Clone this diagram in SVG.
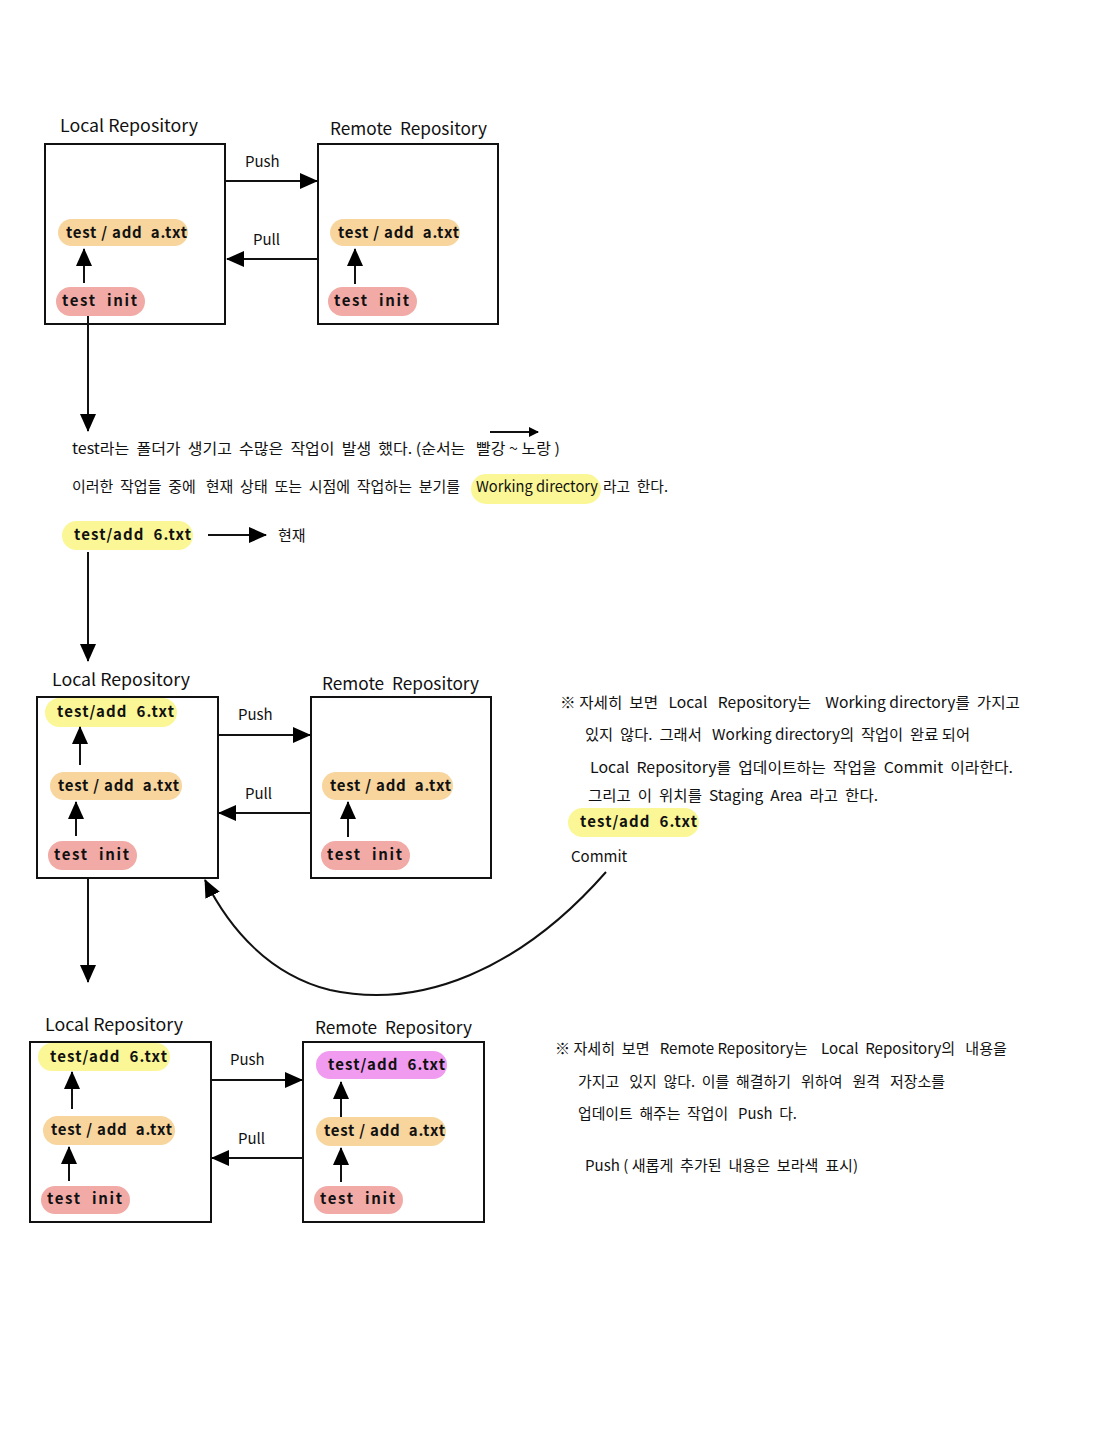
<svg xmlns="http://www.w3.org/2000/svg" width="1097" height="1440" viewBox="0 0 1097 1440">
<defs>
<marker id="ah" markerWidth="10" markerHeight="10" refX="9" refY="5" orient="auto" markerUnits="userSpaceOnUse" viewBox="0 0 10 10"><path d="M0,0 L10,5 L0,10 z" fill="#000"/></marker>
<marker id="ahb" markerWidth="18" markerHeight="16" refX="17" refY="8" orient="auto" markerUnits="userSpaceOnUse" viewBox="0 0 18 16"><path d="M0,0 L18,8 L0,16 z" fill="#000"/></marker>
<style>
text{font-family:"Noto Sans CJK KR","Noto Sans",sans-serif;fill:#111;white-space:pre;}
.lbl{font-size:17px;}
.chip{font-size:15px;font-weight:bold;}
.box{fill:#fff;stroke:#111;stroke-width:2;}
.ln{stroke:#111;stroke-width:2;fill:none;}
.or{fill:#f8d59c;}
.pk{fill:#f2aaa6;}
.ye{fill:#fbf796;}
.mg{fill:#f09af0;}
.p{font-size:15px;}
</style>
</defs>
<rect width="1097" height="1440" fill="#fff"/>

<!-- Section 1 -->
<g id="local1">
<text class="lbl" x="60" y="132" textLength="138" lengthAdjust="spacingAndGlyphs">Local Repository</text>
<rect class="box" x="45" y="144" width="180" height="180"/>
<rect class="or" x="58" y="219" width="130" height="27" rx="13.5"/>
<text class="chip" x="66" y="238" textLength="121" lengthAdjust="spacing">test / add  a.txt</text>
<rect class="pk" x="56" y="287" width="89" height="29" rx="14.5"/>
<text class="chip" x="62" y="306" textLength="75" lengthAdjust="spacing">test  init</text>
</g>
<g id="remote1">
<text class="lbl" x="330" y="135" textLength="157" lengthAdjust="spacingAndGlyphs">Remote  Repository</text>
<rect class="box" x="318" y="144" width="180" height="180"/>
<rect class="or" x="330" y="219" width="130" height="27" rx="13.5"/>
<text class="chip" x="338" y="238" textLength="121" lengthAdjust="spacing">test / add  a.txt</text>
<rect class="pk" x="328" y="287" width="89" height="29" rx="14.5"/>
<text class="chip" x="334" y="306" textLength="75" lengthAdjust="spacing">test  init</text>
</g>

<!-- Section 2 -->
<g id="local2">
<text class="lbl" x="52" y="686" textLength="138" lengthAdjust="spacingAndGlyphs">Local Repository</text>
<rect class="box" x="37" y="697" width="181" height="181"/>
<rect class="ye" x="45" y="698" width="132" height="29" rx="14.5"/>
<text class="chip" x="57" y="717" textLength="117" lengthAdjust="spacing">test/add  6.txt</text>
<rect class="or" x="50" y="772" width="132" height="28" rx="14"/>
<text class="chip" x="58" y="791" textLength="121" lengthAdjust="spacing">test / add  a.txt</text>
<rect class="pk" x="48" y="841" width="89" height="29" rx="14.5"/>
<text class="chip" x="54" y="860" textLength="75" lengthAdjust="spacing">test  init</text>
</g>
<g id="remote2">
<text class="lbl" x="322" y="690" textLength="157" lengthAdjust="spacingAndGlyphs">Remote  Repository</text>
<rect class="box" x="311" y="697" width="180" height="181"/>
<rect class="or" x="322" y="772" width="131" height="28" rx="14"/>
<text class="chip" x="330" y="791" textLength="121" lengthAdjust="spacing">test / add  a.txt</text>
<rect class="pk" x="321" y="841" width="89" height="29" rx="14.5"/>
<text class="chip" x="327" y="860" textLength="75" lengthAdjust="spacing">test  init</text>
</g>

<!-- Section 3 -->
<g id="local3">
<text class="lbl" x="45" y="1031" textLength="138" lengthAdjust="spacingAndGlyphs">Local Repository</text>
<rect class="box" x="30" y="1042" width="181" height="180"/>
<rect class="ye" x="38" y="1043" width="132" height="28" rx="14"/>
<text class="chip" x="50" y="1062" textLength="117" lengthAdjust="spacing">test/add  6.txt</text>
<rect class="or" x="43" y="1116" width="132" height="29" rx="14.5"/>
<text class="chip" x="51" y="1135" textLength="121" lengthAdjust="spacing">test / add  a.txt</text>
<rect class="pk" x="41" y="1186" width="89" height="28" rx="14"/>
<text class="chip" x="47" y="1204" textLength="75" lengthAdjust="spacing">test  init</text>
</g>
<g id="remote3">
<text class="lbl" x="315" y="1034" textLength="157" lengthAdjust="spacingAndGlyphs">Remote  Repository</text>
<rect class="box" x="303" y="1042" width="181" height="180"/>
<rect class="mg" x="316" y="1051" width="131" height="28" rx="14"/>
<text class="chip" x="328" y="1070" textLength="117" lengthAdjust="spacing">test/add  6.txt</text>
<rect class="or" x="316" y="1117" width="130" height="29" rx="14.5"/>
<text class="chip" x="324" y="1136" textLength="121" lengthAdjust="spacing">test / add  a.txt</text>
<rect class="pk" x="314" y="1186" width="89" height="28" rx="14"/>
<text class="chip" x="320" y="1204" textLength="75" lengthAdjust="spacing">test  init</text>
</g>

<!-- Text block 1 -->
<g id="note1">
<text class="p" x="72" y="454" textLength="488" lengthAdjust="spacingAndGlyphs">test라는  폴더가  생기고  수많은  작업이  발생  했다. (순서는   빨강 ~ 노랑 )</text>
<rect class="ye" x="471" y="474" width="130" height="30" rx="15"/>
<text class="p" x="72" y="492" textLength="388" lengthAdjust="spacingAndGlyphs">이러한  작업들  중에   현재  상태  또는  시점에  작업하는  분기를</text>
<text class="p" x="476" y="492" textLength="122" lengthAdjust="spacingAndGlyphs">Working directory</text>
<text class="p" x="603" y="492" textLength="65" lengthAdjust="spacingAndGlyphs">라고  한다.</text>
</g>
<g id="current">
<rect class="ye" x="62" y="521" width="131" height="29" rx="14.5"/>
<text class="chip" x="74" y="540" textLength="117" lengthAdjust="spacing">test/add  6.txt</text>
<text class="p" x="278" y="541">현재</text>
</g>

<!-- Text block 2 -->
<g id="note2">
<text class="p" x="560" y="708" textLength="460" lengthAdjust="spacingAndGlyphs">※ 자세히  보면   Local   Repository는    Working directory를  가지고</text>
<text class="p" x="585" y="740" textLength="385" lengthAdjust="spacingAndGlyphs">있지  않다.  그래서   Working directory의  작업이  완료 되어</text>
<text class="p" x="590" y="773" textLength="423" lengthAdjust="spacingAndGlyphs">Local  Repository를  업데이트하는  작업을  Commit  이라한다.</text>
<text class="p" x="588" y="801" textLength="290" lengthAdjust="spacingAndGlyphs">그리고  이  위치를  Staging  Area  라고  한다.</text>
<rect class="ye" x="568" y="808" width="131" height="29" rx="14.5"/>
<text class="chip" x="580" y="827" textLength="117" lengthAdjust="spacing">test/add  6.txt</text>
<text class="p" x="571" y="862">Commit</text>
</g>

<!-- Text block 3 -->
<g id="note3">
<text class="p" x="555" y="1054" textLength="452" lengthAdjust="spacingAndGlyphs">※ 자세히  보면   Remote Repository는    Local  Repository의   내용을</text>
<text class="p" x="578" y="1087" textLength="367" lengthAdjust="spacingAndGlyphs">가지고   있지  않다.  이를  해결하기   위하여   원격   저장소를</text>
<text class="p" x="578" y="1119" textLength="219" lengthAdjust="spacingAndGlyphs">업데이트  해주는  작업이   Push  다.</text>
<text class="p" x="585" y="1171" textLength="273" lengthAdjust="spacingAndGlyphs">Push ( 새롭게  추가된  내용은  보라색  표시)</text>
</g>

<!-- Connectors -->
<g id="connectors">
<text class="p" x="245" y="167">Push</text>
<text class="p" x="253" y="245">Pull</text>
<line class="ln" x1="226" y1="181" x2="317" y2="181" marker-end="url(#ahb)"/>
<line class="ln" x1="317" y1="259" x2="227" y2="259" marker-end="url(#ahb)"/>
<line class="ln" x1="84" y1="283" x2="84" y2="249" marker-end="url(#ahb)"/>
<line class="ln" x1="355" y1="284" x2="355" y2="249" marker-end="url(#ahb)"/>
<line class="ln" x1="88" y1="316" x2="88" y2="431" marker-end="url(#ahb)"/>
<line class="ln" x1="490" y1="432" x2="538" y2="432" marker-end="url(#ah)"/>
<line class="ln" x1="208" y1="535" x2="266" y2="535" marker-end="url(#ahb)"/>
<line class="ln" x1="88" y1="552" x2="88" y2="661" marker-end="url(#ahb)"/>

<text class="p" x="238" y="720">Push</text>
<text class="p" x="245" y="799">Pull</text>
<line class="ln" x1="219" y1="735" x2="310" y2="735" marker-end="url(#ahb)"/>
<line class="ln" x1="310" y1="813" x2="219" y2="813" marker-end="url(#ahb)"/>
<line class="ln" x1="80" y1="765" x2="80" y2="727" marker-end="url(#ahb)"/>
<line class="ln" x1="76" y1="836" x2="76" y2="802" marker-end="url(#ahb)"/>
<line class="ln" x1="348" y1="837" x2="348" y2="802" marker-end="url(#ahb)"/>
<line class="ln" x1="88" y1="878" x2="88" y2="982" marker-end="url(#ahb)"/>
<path class="ln" d="M606,872 C520,970 420,1010 330,990 C270,975 230,930 205,880" marker-end="url(#ahb)"/>

<text class="p" x="230" y="1065">Push</text>
<text class="p" x="238" y="1144">Pull</text>
<line class="ln" x1="212" y1="1080" x2="302" y2="1080" marker-end="url(#ahb)"/>
<line class="ln" x1="302" y1="1158" x2="212" y2="1158" marker-end="url(#ahb)"/>
<line class="ln" x1="72" y1="1109" x2="72" y2="1072" marker-end="url(#ahb)"/>
<line class="ln" x1="69" y1="1181" x2="69" y2="1147" marker-end="url(#ahb)"/>
<line class="ln" x1="341" y1="1117" x2="341" y2="1082" marker-end="url(#ahb)"/>
<line class="ln" x1="341" y1="1182" x2="341" y2="1148" marker-end="url(#ahb)"/>
</g>
</svg>
